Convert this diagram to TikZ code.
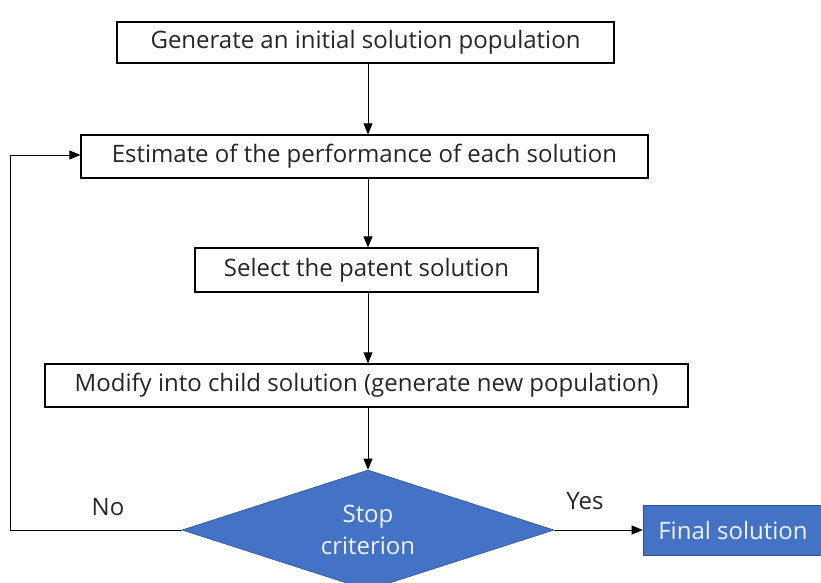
\documentclass[tikz,border=0pt]{standalone}
\usepackage{fontspec}
\setmainfont{Open Sans}
\usetikzlibrary{shapes.geometric,arrows.meta}
\definecolor{boxblue}{HTML}{4472C4}
\definecolor{edgeblue}{HTML}{2F528F}
\begin{document}
\begin{tikzpicture}[x=1pt,y=-1pt,
  every node/.style={font=\fontsize{24}{32}\selectfont},
  stepbox/.style={draw=black,line width=1.3pt,inner sep=0pt,text=black!85},
  conn/.style={line width=0.8pt,-{Triangle[length=11pt,width=9pt]}},
  decision/.style={diamond,fill=boxblue,draw=edgeblue,line width=0.6pt,inner sep=0pt,text=white!92!boxblue,align=center,minimum width=372pt,minimum height=120pt,aspect=3.1},
  final/.style={fill=boxblue,draw=edgeblue,line width=0.6pt,inner sep=0pt,text=white!92!boxblue}]
\useasboundingbox (0,0) rectangle (821,582);
\clip (0,0) rectangle (821,582);
\node[stepbox,minimum width=497pt,minimum height=41pt] (b1) at (365.5,42.5) {Generate an initial solution population};
\node[stepbox,minimum width=567pt,minimum height=43pt] (b2) at (364.5,156.5) {Estimate of the performance of each solution};
\node[stepbox,minimum width=343pt,minimum height=44pt] (b3) at (366.5,270) {Select the patent solution};
\node[stepbox,minimum width=643pt,minimum height=43pt] (b4) at (366.5,385.5) {Modify into child solution (generate new population)};
\node[decision] (d) at (368,530) {Stop\\criterion};
\node[final,minimum width=180pt,minimum height=50pt] (f) at (733,530) {Final solution};
\coordinate (c1) at (10,530);
\coordinate (c2) at (10,155);
\draw[conn] (b1.south -| 368,0) -- (b2.north -| 368,0);
\draw[conn] (b2.south -| 368,0) -- (b3.north -| 368,0);
\draw[conn] (b3.south -| 368,0) -- (b4.north -| 368,0);
\draw[conn] (b4.south -| 368,0) -- (d.north);
\draw[conn] (d.east) -- (f.west);
\draw[conn] (d.west) -- (c1) -- (c2) -- (c2 -| b2.west);
\node[text=black!85] (no) at (108,507) {No};
\node[text=black!85] (yes) at (585,501) {Yes};
\end{tikzpicture}
\end{document}
